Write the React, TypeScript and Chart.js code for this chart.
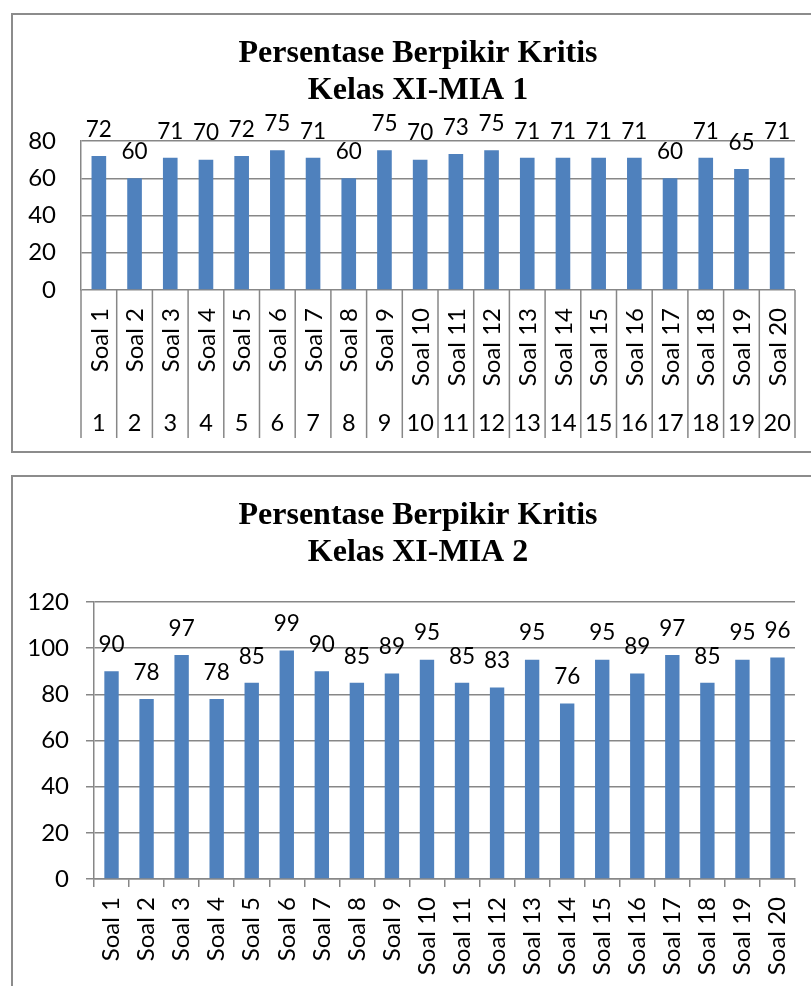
import React, { useEffect, useRef } from 'react';
import { Chart, registerables } from 'chart.js';

Chart.register(...registerables);

// ---- data ----
const titleLine1 = 'Persentase Berpikir Kritis';
const titleClass1 = 'Kelas XI-MIA 1';
const titleClass2 = 'Kelas XI-MIA 2';

const categories = [
  'Soal 1', 'Soal 2', 'Soal 3', 'Soal 4', 'Soal 5', 'Soal 6', 'Soal 7', 'Soal 8', 'Soal 9', 'Soal 10',
  'Soal 11', 'Soal 12', 'Soal 13', 'Soal 14', 'Soal 15', 'Soal 16', 'Soal 17', 'Soal 18', 'Soal 19', 'Soal 20',
];
const categoryNumbers = [
  '1', '2', '3', '4', '5', '6', '7', '8', '9', '10',
  '11', '12', '13', '14', '15', '16', '17', '18', '19', '20',
];
const valuesMIA1 = [72, 60, 71, 70, 72, 75, 71, 60, 75, 70, 73, 75, 71, 71, 71, 71, 60, 71, 65, 71];
const valuesMIA2 = [90, 78, 97, 78, 85, 99, 90, 85, 89, 95, 85, 83, 95, 76, 95, 89, 97, 85, 95, 96];
const yTicksMIA1 = [0, 20, 40, 60, 80];
const yTicksMIA2 = [0, 20, 40, 60, 80, 100, 120];

// ---- style ----
const BAR_COLOR = '#4F81BD';
const GRID_COLOR = '#878787';
const FRAME_COLOR = '#8c8c8c';
const SANS = 'Lato, "Open Sans", sans-serif';
const SERIF = '"Liberation Serif", "Times New Roman", serif';

const CANVAS_W = 814;

const dataLabelPlugin = {
  id: 'dataLabels',
  afterDatasetsDraw(chart: any) {
    const ctx = chart.ctx;
    const meta = chart.getDatasetMeta(0);
    const values = chart.data.datasets[0].data;
    ctx.save();
    ctx.font = `22.5px ${SANS}`;
    ctx.fillStyle = '#000';
    ctx.textAlign = 'center';
    ctx.textBaseline = 'middle';
    meta.data.forEach((bar: any, i: number) => {
      ctx.fillText(String(values[i]), bar.x, bar.y - 26.5);
    });
    ctx.restore();
  },
};

const tableAxisPlugin = {
  id: 'tableAxis',
  afterDraw(chart: any) {
    const { ctx, chartArea } = chart;
    const x = chart.scales.x;
    const labels: string[] = chart.data.labels;
    const n = labels.length;
    const half = (x.getPixelForValue(1) - x.getPixelForValue(0)) / 2;
    const top = chartArea.bottom;
    const bottom = chartArea.bottom + 148;
    ctx.save();
    ctx.strokeStyle = GRID_COLOR;
    ctx.lineWidth = 1.5;
    for (let i = 0; i <= n; i++) {
      const px = i < n ? x.getPixelForValue(i) - half : x.getPixelForValue(n - 1) + half;
      ctx.beginPath();
      ctx.moveTo(px, top);
      ctx.lineTo(px, bottom);
      ctx.stroke();
    }
    ctx.fillStyle = '#000';
    ctx.font = `24px ${SANS}`;
    for (let i = 0; i < n; i++) {
      const px = x.getPixelForValue(i);
      ctx.save();
      ctx.translate(px, top + 18);
      ctx.rotate(-Math.PI / 2);
      ctx.textAlign = 'right';
      ctx.textBaseline = 'middle';
      ctx.fillText(labels[i], 0, 1);
      ctx.restore();
    }
    ctx.font = `23.5px ${SANS}`;
    ctx.textAlign = 'center';
    ctx.textBaseline = 'middle';
    for (let i = 0; i < n; i++) {
      ctx.fillText(categoryNumbers[i], x.getPixelForValue(i), top + 133);
    }
    ctx.restore();
  },
};

function titleOptions(line2: string, padBottom: number) {
  return {
    display: true,
    text: [titleLine1, line2],
    color: '#000',
    font: { family: SERIF, size: 32, weight: 'bold' as const, lineHeight: 1.16 },
    padding: { top: 22, bottom: padBottom },
  };
}

// invisible right-hand axis that only reserves space so the title stays centred on the whole frame
const spacerAxis = {
  type: 'linear' as const,
  position: 'right' as const,
  display: true,
  ticks: { display: false },
  grid: { display: false, drawTicks: false },
  border: { display: false },
  afterFit(scale: any) {
    scale.width = 30;
  },
};

function ChartOne() {
  const ref = useRef<HTMLCanvasElement>(null);
  useEffect(() => {
    const chart = new Chart(ref.current!, {
      type: 'bar',
      data: {
        labels: categories,
        datasets: [
          {
            data: valuesMIA1,
            backgroundColor: BAR_COLOR,
            barPercentage: 0.41,
            categoryPercentage: 1,
          },
        ],
      },
      options: {
        responsive: false,
        animation: false,
        layout: { padding: { left: 0, right: 0, top: 0, bottom: 3 } },
        plugins: {
          legend: { display: false },
          tooltip: { enabled: false },
          title: titleOptions(titleClass1, 31.8),
        },
        scales: {
          x: {
            ticks: { display: false },
            grid: { display: false },
            border: { display: false },
            afterFit(scale: any) {
              scale.height = 160;
            },
          },
          y: {
            min: yTicksMIA1[0],
            max: yTicksMIA1[yTicksMIA1.length - 1],
            ticks: {
              stepSize: yTicksMIA1[1] - yTicksMIA1[0],
              color: '#000',
              font: { family: SANS, size: 24 },
              padding: 25,
            },
            grid: { color: GRID_COLOR, lineWidth: 1.5, drawTicks: false },
            border: { display: true, color: GRID_COLOR, width: 1.5 },
            afterFit(scale: any) {
              scale.width = 70;
            },
          },
          spacer: spacerAxis,
        },
      },
      plugins: [dataLabelPlugin, tableAxisPlugin],
    });
    return () => chart.destroy();
  }, []);
  return <canvas ref={ref} width={CANVAS_W} height={440} style={{ position: 'absolute', left: 0, top: 0 }} />;
}

function ChartTwo() {
  const ref = useRef<HTMLCanvasElement>(null);
  useEffect(() => {
    const chart = new Chart(ref.current!, {
      type: 'bar',
      data: {
        labels: categories,
        datasets: [
          {
            data: valuesMIA2,
            backgroundColor: BAR_COLOR,
            barPercentage: 0.41,
            categoryPercentage: 1,
          },
        ],
      },
      options: {
        responsive: false,
        animation: false,
        layout: { padding: { left: 0, right: 0, top: 0, bottom: 6 } },
        plugins: {
          legend: { display: false },
          tooltip: { enabled: false },
          title: titleOptions(titleClass2, 30.8),
        },
        scales: {
          x: {
            ticks: {
              color: '#000',
              font: { family: SANS, size: 24 },
              maxRotation: 90,
              minRotation: 90,
              padding: 10,
              autoSkip: false,
            },
            grid: {
              display: true,
              drawOnChartArea: false,
              drawTicks: true,
              tickLength: 8,
              offset: true,
              color: GRID_COLOR,
              lineWidth: 1.5,
            },
            border: { display: true, color: GRID_COLOR, width: 1.5 },
            afterFit(scale: any) {
              scale.height = 150;
            },
          },
          y: {
            min: yTicksMIA2[0],
            max: yTicksMIA2[yTicksMIA2.length - 1],
            ticks: {
              stepSize: yTicksMIA2[1] - yTicksMIA2[0],
              color: '#000',
              font: { family: SANS, size: 24 },
              padding: 17,
            },
            grid: { color: GRID_COLOR, lineWidth: 1.5, drawTicks: true, tickLength: 8 },
            border: { display: true, color: GRID_COLOR, width: 1.5 },
            afterFit(scale: any) {
              scale.width = 83;
            },
          },
          spacer: spacerAxis,
        },
      },
      plugins: [dataLabelPlugin],
    });
    return () => chart.destroy();
  }, []);
  return <canvas ref={ref} width={CANVAS_W} height={560} style={{ position: 'absolute', left: 0, top: 0 }} />;
}

export default function App() {
  return (
    <div
      style={{
        position: 'absolute',
        left: 0,
        top: 0,
        width: 811,
        height: 986,
        overflow: 'hidden',
        background: '#fff',
      }}
    >
      <div style={{ position: 'absolute', left: 11, top: 13, width: CANVAS_W, height: 440 }}>
        <div
          style={{
            position: 'absolute',
            inset: 0,
            border: `2px solid ${FRAME_COLOR}`,
            boxSizing: 'border-box',
          }}
        />
        <ChartOne />
      </div>
      <div style={{ position: 'absolute', left: 11, top: 475, width: CANVAS_W, height: 560 }}>
        <div
          style={{
            position: 'absolute',
            inset: 0,
            border: `2px solid ${FRAME_COLOR}`,
            boxSizing: 'border-box',
          }}
        />
        <ChartTwo />
      </div>
    </div>
  );
}
